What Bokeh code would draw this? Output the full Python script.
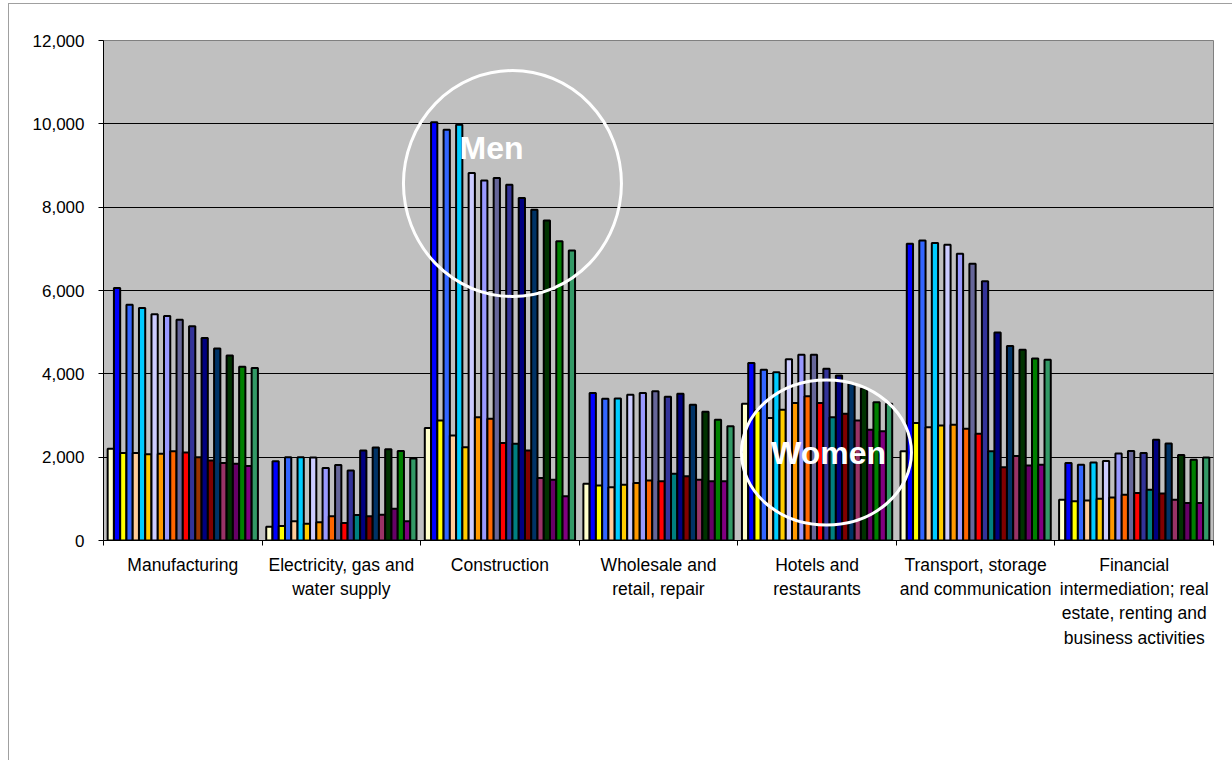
from bokeh.plotting import figure
from bokeh.models import Range1d, FixedTicker, LinearAxis, NumeralTickFormatter, ColumnDataSource
from bokeh.core.properties import value
from bokeh.embed import file_html
from bokeh.resources import INLINE

categories = [
    "Manufacturing",
    "Electricity, gas and\nwater supply",
    "Construction",
    "Wholesale and\nretail, repair",
    "Hotels and\nrestaurants",
    "Transport, storage\nand communication",
    "Financial\nintermediation; real\nestate, renting and\nbusiness activities",
]

# 12 series of women and 12 series of men per sector
women_manufacturing = [2200, 2100, 2100, 2070, 2080, 2140, 2110, 2000, 1920, 1860, 1840, 1790]
men_manufacturing = [6060, 5660, 5580, 5430, 5390, 5300, 5140, 4860, 4610, 4440, 4170, 4140]
women_electricity = [330, 350, 460, 400, 440, 580, 420, 610, 580, 620, 760, 460]
men_electricity = [1900, 2000, 2000, 1990, 1740, 1810, 1680, 2160, 2230, 2190, 2150, 1970]
women_construction = [2700, 2880, 2520, 2240, 2960, 2920, 2340, 2320, 2160, 1500, 1460, 1060]
men_construction = [10040, 9860, 9980, 8820, 8640, 8700, 8540, 8220, 7940, 7680, 7180, 6960]
women_wholesale = [1360, 1320, 1280, 1340, 1380, 1440, 1420, 1600, 1540, 1460, 1420, 1420]
men_wholesale = [3540, 3400, 3410, 3500, 3540, 3580, 3450, 3520, 3260, 3090, 2900, 2740]
women_hotels = [3280, 3120, 2940, 3140, 3300, 3460, 3300, 2960, 3040, 2880, 2660, 2620]
men_hotels = [4260, 4100, 4040, 4350, 4460, 4460, 4120, 3960, 3760, 3650, 3320, 3280]
women_transport = [2140, 2820, 2720, 2760, 2780, 2680, 2560, 2140, 1760, 2030, 1800, 1820]
men_transport = [7120, 7200, 7140, 7100, 6880, 6640, 6220, 4990, 4670, 4580, 4370, 4340]
women_financial = [980, 940, 960, 1000, 1030, 1100, 1140, 1220, 1130, 980, 900, 900]
men_financial = [1860, 1820, 1870, 1910, 2090, 2150, 2100, 2420, 2330, 2050, 1940, 1990]

women_values = [women_manufacturing, women_electricity, women_construction, women_wholesale,
                women_hotels, women_transport, women_financial]
men_values = [men_manufacturing, men_electricity, men_construction, men_wholesale,
              men_hotels, men_transport, men_financial]

women_colors = ["#FFFFCC", "#FFFF00", "#FFCC99", "#FFCC00", "#FF9900", "#FF6600",
                "#FF0000", "#008080", "#800000", "#993366", "#660066", "#800080"]
men_colors = ["#0000FF", "#3366FF", "#00CCFF", "#CCCCFF", "#9999FF", "#666699",
              "#333399", "#000080", "#003366", "#003300", "#008000", "#339966"]
manufacturing_8th_women_color = "#993300"

y_ticks = [0, 2000, 4000, 6000, 8000, 10000, 12000]

# layout of the bars inside each category (fractions of a category)
n_bars = 24
bar_w = 0.03948
margin = (1 - n_bars * bar_w) / 2

xs, tops, colors = [], [], []
for i in range(len(categories)):
    for j in range(12):
        for g, (vals, cols) in enumerate([(women_values, women_colors), (men_values, men_colors)]):
            k = 2 * j + g
            xs.append(i + margin + (k + 0.5) * bar_w)
            tops.append(vals[i][j])
            c = cols[j]
            if g == 0 and i == 0 and j == 7:
                c = manufacturing_8th_women_color
            colors.append(c)

src = ColumnDataSource(dict(x=xs, top=tops, color=colors))

p = figure(frame_width=1110, frame_height=500,
           min_border_left=95, min_border_top=37, min_border_right=19, min_border_bottom=220,
           x_range=Range1d(0, 7), y_range=Range1d(0, 12000),
           x_axis_type=None, output_backend="svg", toolbar_location=None)
p.styles = {"margin-left": "8px", "margin-top": "3px",
            "box-shadow": "inset 1px 1px 0 0 #A0A0A0"}
p.background_fill_color = "#C0C0C0"
p.border_fill_color = None
p.outline_line_color = "#808080"
p.outline_line_width = 1

p.vbar(x="x", top="top", bottom=0, width=bar_w, fill_color="color",
       line_color="black", line_width=2, source=src)

# y axis
ya = p.yaxis[0]
ya.ticker = FixedTicker(ticks=y_ticks)
ya.formatter = NumeralTickFormatter(format="0,0")
ya.major_label_text_font = "Liberation Sans"
ya.major_label_text_font_size = "17px"
ya.major_label_text_color = "black"
ya.major_tick_out = 5
ya.major_tick_in = 0
ya.minor_tick_out = 0
ya.minor_tick_in = 0
ya.axis_line_color = "black"
ya.major_tick_line_color = "black"
ya.major_label_standoff = 14
p.ygrid.ticker = FixedTicker(ticks=y_ticks)
p.ygrid.grid_line_color = "black"
p.ygrid.grid_line_width = 1

# x axis: boundary ticks
ax1 = LinearAxis(ticker=FixedTicker(ticks=list(range(8))),
                 major_label_overrides={i: "" for i in range(8)},
                 major_tick_out=5, major_tick_in=0, minor_tick_out=0, minor_tick_in=0,
                 axis_line_color="black", major_tick_line_color="black",
                 major_label_text_font_size="1px", major_label_standoff=0)
p.add_layout(ax1, "below")

centers = [i + 0.5 for i in range(len(categories))]
ax2 = LinearAxis(ticker=FixedTicker(ticks=centers),
                 major_label_overrides={c: lab for c, lab in zip(centers, categories)},
                 major_tick_out=0, major_tick_in=0, minor_tick_out=0, minor_tick_in=0,
                 axis_line_color=None, major_tick_line_color=None,
                 major_label_text_font="Liberation Sans", major_label_text_font_size="17.5px",
                 major_label_text_color="black", major_label_text_line_height=1.22,
                 major_label_standoff=9)
p.add_layout(ax2, "below")

# circled annotations
ann_x = [2.579, 4.559]
ann_y = [8568, 2112]
ann_w = [218, 170]
ann_h = [226, 145]
p.ellipse(x=ann_x, y=ann_y, width=ann_w, height=ann_h, width_units="screen", height_units="screen",
          fill_color=None, line_color="white", line_width=3)
p.text(x=[2.447, 4.572], y=[9432, 2112], text=["Men", "Women"],
       text_font=value("Liberation Sans"), text_font_style="bold", text_font_size="32px",
       text_color="white", text_align="center", text_baseline="middle")

open("out.html", "w").write(file_html(p, INLINE))
